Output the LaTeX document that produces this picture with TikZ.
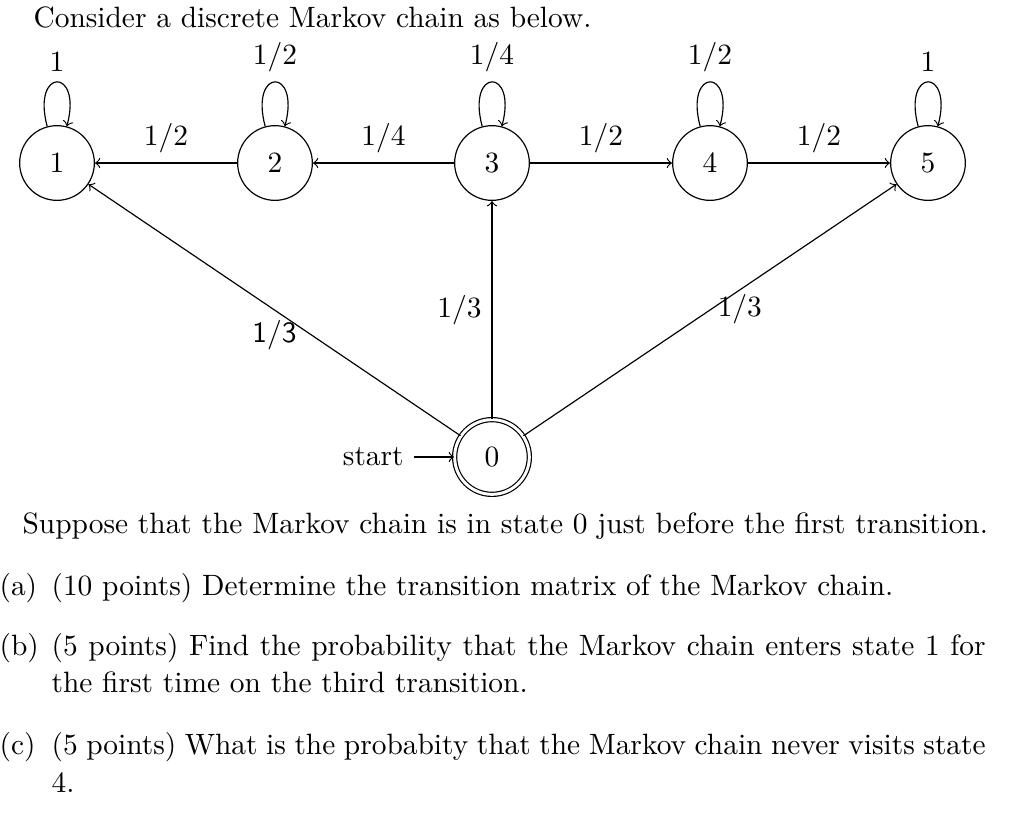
\documentclass[tikz,border=0pt]{standalone}
\usetikzlibrary{positioning}
\begin{document}
\begin{tikzpicture}[x=0.34pt,y=0.34pt,>=to]
\tikzstyle{mstate}=[draw,circle,minimum size=25.4pt,inner sep=0pt]
\tikzstyle{mfinal}=[mstate,double,double distance=1pt]
\tikzstyle{qline}=[anchor=base west,inner sep=0pt]
\useasboundingbox (0,0) rectangle (1024,-818);
\node [qline] (title) at (33,-27) {Consider a discrete Markov chain as below.};
\node [mstate] (s1) at (57,-163) {$1$};
\node [mstate] (s2) at (275,-163) {$2$};
\node [mstate] (s3) at (492,-163) {$3$};
\node [mstate] (s4) at (710,-163) {$4$};
\node [mstate] (s5) at (928,-163) {$5$};
\node [mfinal] (s0) at (492,-457) {$0$};
\node (st) [left=13.6pt of s0] {start};
\draw [->] (st) -- (s0);
\draw [->] (s1) to [loop above] node [above] {$1$} (s1);
\draw [->] (s2) to [loop above] node [above] {$1/2$} (s2);
\draw [->] (s3) to [loop above] node [above] {$1/4$} (s3);
\draw [->] (s4) to [loop above] node [above] {$1/2$} (s4);
\draw [->] (s5) to [loop above] node [above] {$1$} (s5);
\draw [->] (s2) -- node [above] {$1/2$} (s1);
\draw [->] (s3) -- node [above] {$1/4$} (s2);
\draw [->] (s3) -- node [above] {$1/2$} (s4);
\draw [->] (s4) -- node [above] {$1/2$} (s5);
\draw [->] (s0) -- node [below] {\sffamily 1/3} (s1);
\draw [->] (s0) -- node [left] {$1/3$} (s3);
\draw [->] (s0) -- node [pos=0.58,below,yshift=2pt] {$1/3$} (s5);
% questions
\node [qline] (intro) at (22,-533) {Suppose that the Markov chain is in state 0 just before the first transition.};
\node [qline] (la) at (-1,-595) {(a)};
\node [qline] (qa) at (51,-595) {(10 points) Determine the transition matrix of the Markov chain.};
\node [qline] (lb) at (-1,-655) {(b)};
\node [qline] (qb) at (51,-655) {\makebox[317.6pt][s]{(5 points) Find the probability that the Markov chain enters state 1 for}};
\node [qline] (qb2) at (51,-692) {the first time on the third transition.};
\node [qline] (lc) at (-1,-754) {(c)};
\node [qline] (qc) at (51,-754) {\makebox[317.6pt][s]{(5 points) What is the probabity that the Markov chain never visits state}};
\node [qline] (qc2) at (51,-792) {4.};
\end{tikzpicture}
\end{document}
